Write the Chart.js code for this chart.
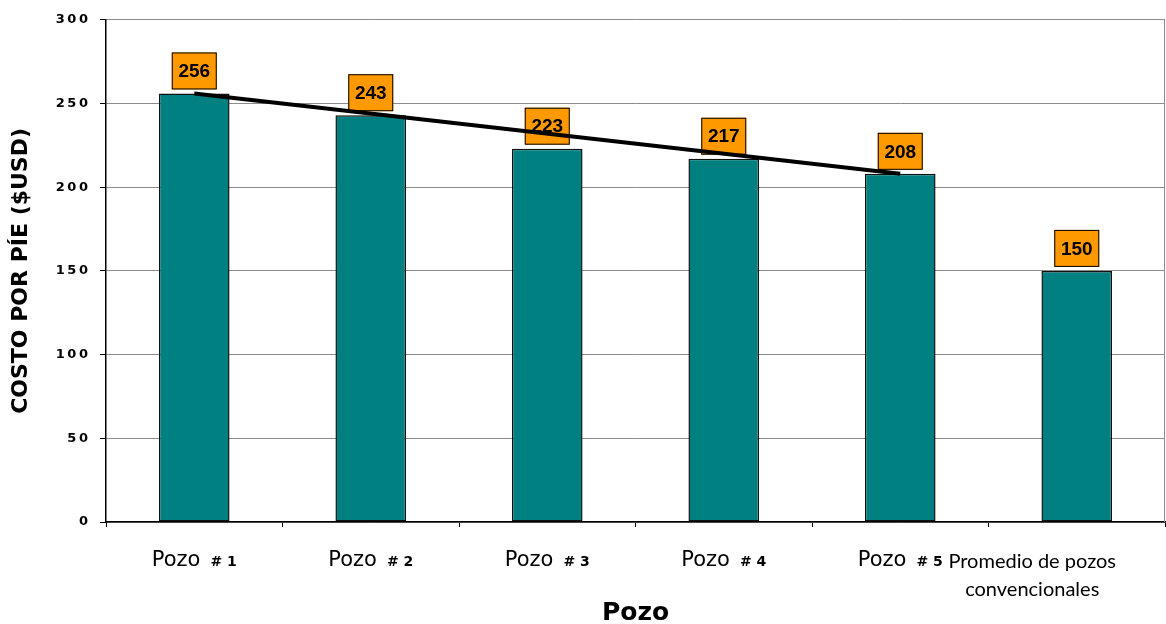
<!DOCTYPE html>
<html>
<head>
<meta charset="utf-8">
<script src="https://cdn.jsdelivr.net/npm/chart.js@4"></script>
<style>
  html, body { margin: 0; padding: 0; background: #fff; }
  #wrap { width: 1166px; height: 624px; }
</style>
</head>
<body>
<div id="wrap"><canvas id="costChart" width="1166" height="624"></canvas></div>
<script>
// cost per foot by well
const categories = ["Pozo # 1", "Pozo # 2", "Pozo # 3", "Pozo # 4", "Pozo # 5", ["Promedio de pozos", "convencionales"]];
const costs = [256, 243, 223, 217, 208, 150];
// trend line only joins the first and the last drilled well
const trend = [256, null, null, null, 208, null];
const yTicks = [0, 50, 100, 150, 200, 250, 300];

const TEAL = "#008080";
const ORANGE = "#ff9900";

// orange value boxes above each bar
const valueBoxes = {
  id: "valueBoxes",
  afterDatasetDraw(chart, args) {
    if (args.index !== 0) return;
    const ctx = chart.ctx;
    const meta = chart.getDatasetMeta(0);
    ctx.save();
    ctx.font = "bold 19px 'Liberation Sans', Arial, sans-serif";
    ctx.textAlign = "center";
    ctx.textBaseline = "middle";
    meta.data.forEach((bar, i) => {
      const w = 45, h = 37;
      const x = bar.x - w / 2;
      const y = bar.y - 4 - h;
      ctx.fillStyle = ORANGE;
      ctx.fillRect(x, y, w, h);
      ctx.strokeStyle = "#000";
      ctx.lineWidth = 1;
      ctx.strokeRect(x + 0.5, y + 0.5, w - 1, h - 1);
      ctx.fillStyle = "#000";
      ctx.fillText(String(costs[i]), bar.x, y + h / 2 + 1);
    });
    ctx.restore();
  }
};

// category labels: "Pozo" in regular type with a small bold number
const wellLabels = {
  id: "wellLabels",
  afterDraw(chart) {
    const ctx = chart.ctx;
    const xs = chart.scales.x;
    ctx.save();
    ctx.fillStyle = "#000";
    ctx.textBaseline = "alphabetic";
    categories.forEach((lab, i) => {
      const cx = xs.getPixelForValue(i);
      if (Array.isArray(lab)) {
        ctx.font = "20px Lato, sans-serif";
        const w = Math.max(...lab.map(t => ctx.measureText(t).width));
        const x = Math.min(cx, chart.width - 50 - w / 2);
        ctx.textAlign = "center";
        lab.forEach((t, k) => ctx.fillText(t, x, 568 + k * 28));
      } else {
        const [name, num] = lab.split(" # ");
        ctx.font = "21px 'DejaVu Sans', sans-serif";
        const w1 = ctx.measureText(name).width;
        ctx.font = "bold 14px 'DejaVu Sans', sans-serif";
        const numText = "# " + num;
        const w2 = ctx.measureText(numText).width;
        const gap = 10;
        const start = cx - (w1 + gap + w2) / 2;
        ctx.textAlign = "left";
        ctx.font = "21px 'DejaVu Sans', sans-serif";
        ctx.fillText(name, start, 566);
        ctx.font = "bold 14px 'DejaVu Sans', sans-serif";
        ctx.fillText(numText, start + w1 + gap, 566);
      }
    });
    // right edge of the plot frame
    const a = chart.chartArea;
    ctx.strokeStyle = "#8c8c8c";
    ctx.lineWidth = 1;
    ctx.beginPath();
    ctx.moveTo(a.right - 0.5, a.top);
    ctx.lineTo(a.right - 0.5, a.bottom);
    ctx.stroke();
    ctx.restore();
  }
};

new Chart(document.getElementById("costChart"), {
  data: {
    labels: categories,
    datasets: [
      {
        type: "bar",
        data: costs,
        backgroundColor: TEAL,
        borderColor: "#111",
        borderWidth: 1.5,
        borderSkipped: false,
        categoryPercentage: 1,
        barPercentage: 0.4,
        order: 2
      },
      {
        type: "line",
        data: trend,
        spanGaps: true,
        borderColor: "#000",
        borderWidth: 4,
        pointRadius: 0,
        tension: 0,
        order: 1
      }
    ]
  },
  options: {
    responsive: false,
    devicePixelRatio: 1,
    animation: false,
    layout: { padding: { top: 18, right: 1, left: 0, bottom: 0 } },
    plugins: { legend: { display: false }, tooltip: { enabled: false } },
    scales: {
      x: {
        offset: true,
        grid: {
          offset: true,
          drawOnChartArea: false,
          drawTicks: true,
          tickLength: 5,
          color: "#000"
        },
        border: { color: "#000", width: 1.5 },
        ticks: { display: false },
        title: {
          display: true,
          text: "Pozo",
          color: "#000",
          font: { family: "'DejaVu Sans', sans-serif", size: 25, weight: "bold" },
          padding: { top: 0, bottom: -4 }
        },
        afterFit(scale) { scale.height = 102; }
      },
      y: {
        min: 0,
        max: 300,
        afterBuildTicks(scale) { scale.ticks = yTicks.map(v => ({ value: v })); },
        grid: { color: "#8c8c8c", lineWidth: 1, tickLength: 6, tickColor: "#000" },
        border: { color: "#000", width: 1.5 },
        ticks: {
          color: "#000",
          padding: 12,
          font: { family: "'DejaVu Sans', sans-serif", size: 13, weight: "bold" },
          callback: v => String(v).split("").join("\u2009")
        },
        title: {
          display: true,
          text: "COSTO POR PÍE ($USD)",
          color: "#000",
          font: { family: "'DejaVu Sans', sans-serif", size: 22, weight: "bold" },
          padding: { top: 8, bottom: 0 }
        },
        afterFit(scale) { scale.width = 106; }
      }
    }
  },
  plugins: [valueBoxes, wellLabels]
});
</script>
</body>
</html>
